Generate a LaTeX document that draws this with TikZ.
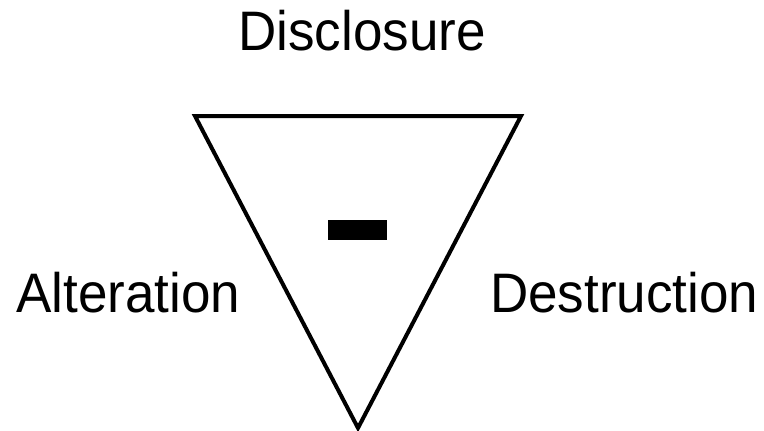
\documentclass[tikz,border=0pt]{standalone}
\usepackage{fontspec}
\setmainfont{Liberation Sans}
\begin{document}
\begin{tikzpicture}[x=1pt,y=-1pt,
  lbl/.style={inner sep=0pt,font=\fontsize{53}{60}\selectfont,yscale=1.05},
  tri/.style={draw=black,line width=4pt,line join=miter}]
\useasboundingbox (0,0) rectangle (764,431);
\coordinate (tl) at (195,116);
\coordinate (tr) at (521,116);
\coordinate (bt) at (358,428);
\draw[tri] (tl) -- (tr) -- (bt) -- cycle;
\node[fill=black,minimum width=59pt,minimum height=20pt,inner sep=0pt] (minus) at (357.5,230) {};
\node[lbl,anchor=base] (disc) at (362,50) {Disclosure};
\node[lbl,anchor=base west] (alt) at (16,312) {Alteration};
\node[lbl,anchor=base west] (des) at (490,312) {Destruction};
\end{tikzpicture}
\end{document}
